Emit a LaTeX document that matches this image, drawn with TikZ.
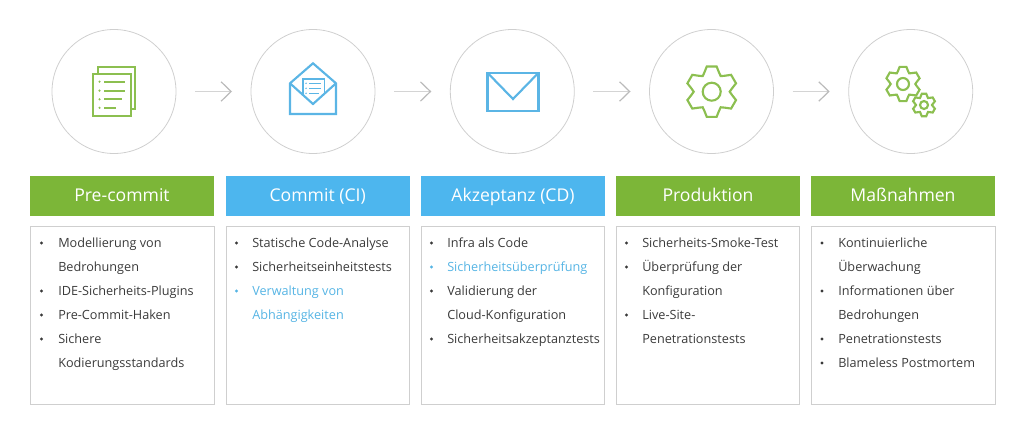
\documentclass[tikz,border=0pt]{standalone}
\usepackage{fontspec}
\setmainfont{Open Sans}
\usetikzlibrary{arrows.meta}
\definecolor{grn}{HTML}{7CB638}
\definecolor{blu}{HTML}{4DB6EE}
\definecolor{icg}{HTML}{8CBF50}
\definecolor{icb}{HTML}{5BB5E5}
\definecolor{txt}{HTML}{3A3A3A}
\definecolor{lnk}{HTML}{55B4E4}
\definecolor{rim}{HTML}{CFCFCF}
\tikzset{
  stage/.style={circle,draw=rim,line width=0.6pt,minimum size=93pt,inner sep=0pt,outer sep=0pt},
  flow/.style={draw=black!17,line width=1pt,shorten <=14.25pt,shorten >=14.25pt,-{Straight Barb[length=7.5pt,width=14.5pt,color=black!27,line width=0.9pt]}},
  head/.style={minimum width=138.3pt,minimum height=30pt,inner sep=0pt,text=white,text height=11pt,text depth=2.5pt,font=\fontsize{13.2pt}{15pt}\selectfont},
  panel/.style={draw=rim,line width=0.7pt,minimum width=137.6pt,minimum height=133.6pt,inner sep=0pt,outer sep=0pt},
  itm/.style={anchor=base west,inner sep=0pt,text=txt,font=\fontsize{9.5pt}{11pt}\selectfont},
  bul/.style={fill=txt,circle,inner sep=0pt,minimum size=2.4pt},
  itmb/.style={itm,text=lnk},
  bulb/.style={bul,fill=lnk},
  icn/.style={line width=1.6pt,line join=miter}
}
\newcommand{\gearpath}[4]{% R, base r, valley r, hole
  \draw[icn,draw=icg] (30-21:#2)
  \foreach \a in {30,90,150,210,270,330} { -- (\a-21:#2) -- (\a-11:#1) -- (\a+11:#1) -- (\a+21:#2) -- (\a+30:#3)} -- cycle;
  \draw[icn,draw=icg] (0,0) circle (#4);
}
\begin{document}
\begin{tikzpicture}[x=0.75pt,y=-0.75pt]
\useasboundingbox (0,0) rectangle (1024,435);
% circles
\node[stage] (c1) at (114,91.5) {};
\node[stage] (c2) at (313,91.5) {};
\node[stage] (c3) at (512.3,91.5) {};
\node[stage] (c4) at (711.5,91.5) {};
\node[stage] (c5) at (910.7,91.5) {};
\draw[flow] (c1) -- (c2);
\draw[flow] (c2) -- (c3);
\draw[flow] (c3) -- (c4);
\draw[flow] (c4) -- (c5);
% doc icon
\begin{scope}[icn,draw=icg]
\draw (98.3,74) -- (98.3,67.3) -- (135.3,67.3) -- (135.3,109) -- (130.7,109);
\draw (92.7,74) rectangle (130.7,116);
\draw (104,81.7) -- (124.5,81.7) (104,90.6) -- (124.5,90.6) (104,99.3) -- (122,99.3) (104,107.8) -- (116,107.8);
\foreach \y in {81.7,90.6,99.3,107.8} \fill[icg] (99.5,\y) circle (1.2);
\end{scope}
% open mail
\begin{scope}[icn,draw=icb]
\draw (290,83.3) -- (313,63.3) -- (336,83.3) -- (336,114) -- (290,114) -- cycle;
\draw (290,83.3) -- (313,104) -- (336,83.3);
\draw[line width=1.2pt] (302.7,94.6) -- (302.7,78.9) -- (324.3,78.9) -- (324.3,94.6);
\draw[line width=1pt] (309,83.3) -- (321,83.3) (309,88.3) -- (321,88.3) (309,93.3) -- (319,93.3);
\foreach \y in {83.3,88.3,93.3} \fill[icb] (306,\y) circle (0.8);
\end{scope}
% envelope
\begin{scope}[icn,draw=icb]
\draw (487.5,72.8) rectangle (538.5,110.6);
\draw (487.5,72.8) -- (513,99) -- (538.5,72.8);
\end{scope}
% gears
\begin{scope}[shift={(711.7,91.7)}] \gearpath{25.7}{20.5}{18}{9} \end{scope}
\begin{scope}[shift={(903,84)}] \gearpath{17.5}{14}{12.3}{6} \end{scope}
\begin{scope}[shift={(924,105)}] \gearpath{11.5}{9.2}{8}{4} \end{scope}
% headers
\node[head,fill=grn] (h1) at (122,196) {Pre-commit};
\node[head,fill=blu] (h2) at (317.7,196) {Commit (CI)};
\node[head,fill=blu] (h3) at (513,196) {Akzeptanz (CD)};
\node[head,fill=grn] (h4) at (708,196) {Produktion};
\node[head,fill=grn] (h5) at (903,196) {Maßnahmen};
% panels
\node[panel] (p1) at (122.3,315.5) {};
\node[panel] (p2) at (317.7,315.5) {};
\node[panel] (p3) at (513,315.5) {};
\node[panel] (p4) at (708,315.5) {};
\node[panel] (p5) at (903.3,315.5) {};
% column 1
\foreach \y/\t/\b in {247/Modellierung von/1,271/Bedrohungen/0,295/IDE-Sicherheits-Plugins/1,319/Pre-Commit-Haken/1,343/Sichere/1,367/Kodierungsstandards/0}
 {\node[itm] at (58,\y) {\t}; \ifnum\b=1 \node[bul] at (41.5,\y-4) {};\fi}
% column 2
\foreach \y/\t/\b in {247/Statische Code-Analyse/1,271/Sicherheitseinheitstests/1}
 {\node[itm] at (252,\y) {\t}; \ifnum\b=1 \node[bul] at (236.5,\y-4) {};\fi}
\foreach \y/\t/\b in {295/Verwaltung von/1,319/Abhängigkeiten/0}
 {\node[itmb] at (252,\y) {\t}; \ifnum\b=1 \node[bulb] at (236.5,\y-4) {};\fi}
% column 3
\foreach \y/\t/\b in {247/Infra als Code/1,295/Validierung der/1,319/Cloud-Konfiguration/0,343/Sicherheitsakzeptanztests/1}
 {\node[itm] at (447,\y) {\t}; \ifnum\b=1 \node[bul] at (431.5,\y-4) {};\fi}
\node[itmb] at (447,271) {Sicherheitsüberprüfung};
\node[bulb] at (431.5,267) {};
% column 4
\foreach \y/\t/\b in {247/Sicherheits-Smoke-Test/1,271/Überprüfung der/1,295/Konfiguration/0,319/Live-Site-/1,343/Penetrationstests/0}
 {\node[itm] at (642,\y) {\t}; \ifnum\b=1 \node[bul] at (626.5,\y-4) {};\fi}
% column 5
\foreach \y/\t/\b in {247/Kontinuierliche/1,271/Überwachung/0,295/Informationen über/1,319/Bedrohungen/0,343/Penetrationstests/1,367/Blameless Postmortem/1}
 {\node[itm] at (838,\y) {\t}; \ifnum\b=1 \node[bul] at (822,\y-4) {};\fi}
\end{tikzpicture}
\end{document}
